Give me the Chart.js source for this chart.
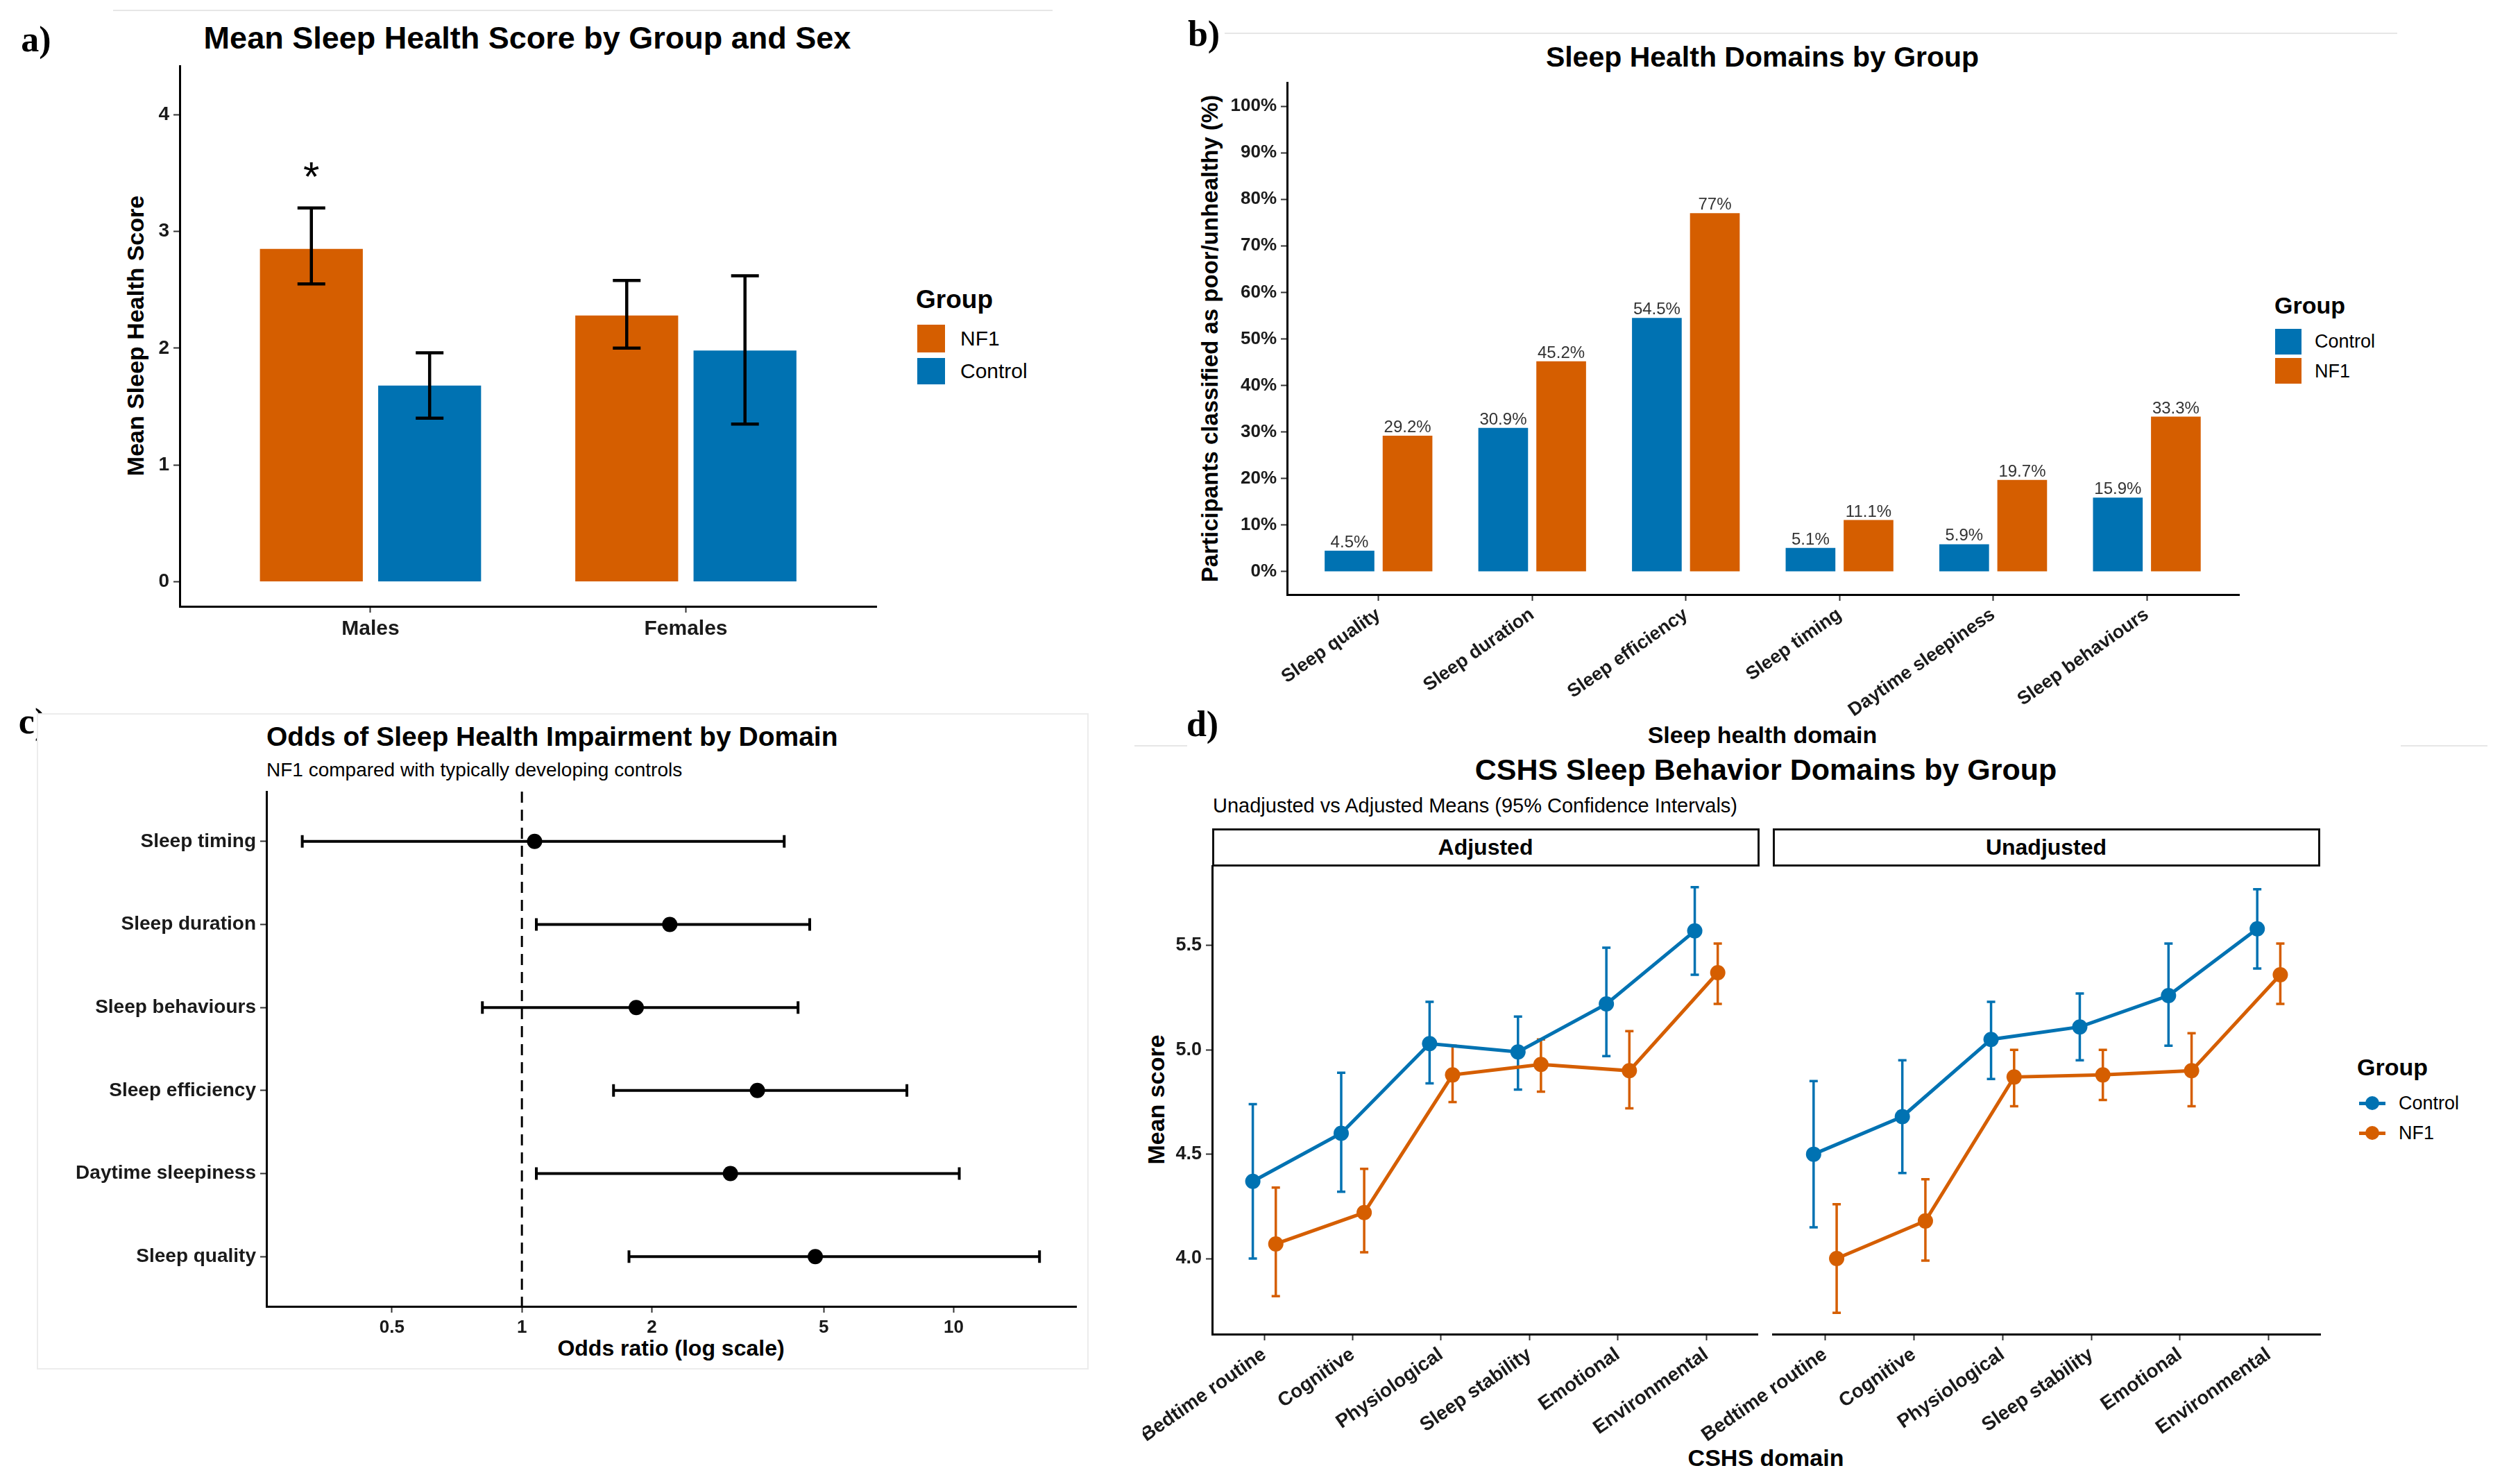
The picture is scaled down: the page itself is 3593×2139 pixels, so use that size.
<!DOCTYPE html>
<html>
<head>
<meta charset="utf-8">
<title>Sleep health figure</title>
<script src="https://cdn.jsdelivr.net/npm/chart.js@4.4.1/dist/chart.umd.min.js"></script>
<style>
  body { margin: 0; background: #fff; }
  #fig { position: relative; width: 3593px; height: 2139px; overflow: hidden; background: #fff;
         font-family: 'Liberation Sans', Arial, sans-serif; color: #000; }
  #fig canvas, #fig .t, #fig .box { position: absolute; }
  .t { white-space: nowrap; line-height: 1; }
</style>
</head>
<body>
<div id="fig"></div>
<script>
// a) mean sleep health score by sex
const sexes = ['Males', 'Females'];
const scoreNF1 = [2.85, 2.28];
const scoreNF1Lo = [2.55, 2.00];
const scoreNF1Hi = [3.20, 2.58];
const scoreCtrl = [1.68, 1.98];
const scoreCtrlLo = [1.40, 1.35];
const scoreCtrlHi = [1.96, 2.62];
const scoreSig = [3.55, null];
const scoreTicks = [0, 1, 2, 3, 4];

// b) % poor/unhealthy per domain
const domains = ['Sleep quality', 'Sleep duration', 'Sleep efficiency', 'Sleep timing', 'Daytime sleepiness', 'Sleep behaviours'];
const pctCtrl = [4.5, 30.9, 54.5, 5.1, 5.9, 15.9];
const pctNF1 = [29.2, 45.2, 77, 11.1, 19.7, 33.3];
const pctTicks = [0, 10, 20, 30, 40, 50, 60, 70, 80, 90, 100];

// c) odds ratios, top row first
const orDomains = ['Sleep timing', 'Sleep duration', 'Sleep behaviours', 'Sleep efficiency', 'Daytime sleepiness', 'Sleep quality'];
const orEst = [1.07, 2.20, 1.84, 3.51, 3.04, 4.78];
const orLo = [0.31, 1.08, 0.81, 1.63, 1.08, 1.77];
const orHi = [4.05, 4.64, 4.36, 7.79, 10.3, 15.8];
const orNull = 1;
const orTicks = [0.5, 1, 2, 5, 10];

// d) CSHS domain means
const cshsDomains = ['Bedtime routine', 'Cognitive', 'Physiological', 'Sleep stability', 'Emotional', 'Environmental'];
const adjCtrl = [4.37, 4.60, 5.03, 4.99, 5.22, 5.57];
const adjCtrlLo = [4.00, 4.32, 4.84, 4.81, 4.97, 5.36];
const adjCtrlHi = [4.74, 4.89, 5.23, 5.16, 5.49, 5.78];
const adjNF1 = [4.07, 4.22, 4.88, 4.93, 4.90, 5.37];
const adjNF1Lo = [3.82, 4.03, 4.75, 4.80, 4.72, 5.22];
const adjNF1Hi = [4.34, 4.43, 5.02, 5.05, 5.09, 5.51];
const unCtrl = [4.50, 4.68, 5.05, 5.11, 5.26, 5.58];
const unCtrlLo = [4.15, 4.41, 4.86, 4.95, 5.02, 5.39];
const unCtrlHi = [4.85, 4.95, 5.23, 5.27, 5.51, 5.77];
const unNF1 = [4.00, 4.18, 4.87, 4.88, 4.90, 5.36];
const unNF1Lo = [3.74, 3.99, 4.73, 4.76, 4.73, 5.22];
const unNF1Hi = [4.26, 4.38, 5.00, 5.00, 5.08, 5.51];
const cshsTicks = [4.0, 4.5, 5.0, 5.5];

const ORANGE = '#D55E00';
const BLUE = '#0072B2';
const FONT = "'Liberation Sans', Arial, sans-serif";
const DODGE = 0.13;

Chart.defaults.font.family = FONT;
Chart.defaults.color = '#1a1a1a';

const fig = document.getElementById('fig');

function txt(s, x, y, o = {}) {
  const d = document.createElement('div');
  d.className = 't';
  d.textContent = s;
  d.style.left = x + 'px';
  d.style.top = y + 'px';
  d.style.fontSize = (o.size || 30) + 'px';
  d.style.fontWeight = o.bold ? 'bold' : 'normal';
  if (o.serif) d.style.fontFamily = "'Liberation Serif', 'DejaVu Serif', serif";
  const ax = o.align === 'left' ? '0' : '-50%';
  d.style.transform = `translate(${ax}, -50%)` + (o.rot ? ` rotate(${o.rot}deg)` : '');
  fig.appendChild(d);
  return d;
}

function rect(x, y, w, h, css) {
  const d = document.createElement('div');
  d.className = 'box';
  Object.assign(d.style, {left: x + 'px', top: y + 'px', width: w + 'px', height: h + 'px'}, css);
  fig.appendChild(d);
  return d;
}

const indexTicks = arr => s => { s.ticks = arr.map((_, i) => ({value: i})); };
const valueTicks = arr => s => { s.ticks = arr.map(v => ({value: v})); };

function axis(o) {
  return Object.assign({
    offset: false,
    border: {display: true, color: '#000', width: 3},
    grid: {display: true, offset: false, drawOnChartArea: false, tickLength: 9, tickColor: '#333', tickWidth: 2}
  }, o);
}

// error bars from ds.lo / ds.hi
function drawErr(chart, o) {
  const ctx = chart.ctx, xs = chart.scales.x, ys = chart.scales.y;
  chart.data.datasets.forEach((ds, i) => {
    if (!ds.lo) return;
    ctx.save();
    ctx.strokeStyle = o.color || ds.borderColor;
    ctx.lineWidth = o.width;
    chart.getDatasetMeta(i).data.forEach((el, j) => {
      ctx.beginPath();
      if (o.horizontal) {
        const a = xs.getPixelForValue(ds.lo[j]), b = xs.getPixelForValue(ds.hi[j]);
        ctx.moveTo(a, el.y); ctx.lineTo(b, el.y);
        ctx.moveTo(a, el.y - o.cap); ctx.lineTo(a, el.y + o.cap);
        ctx.moveTo(b, el.y - o.cap); ctx.lineTo(b, el.y + o.cap);
      } else {
        const a = ys.getPixelForValue(ds.lo[j]), b = ys.getPixelForValue(ds.hi[j]);
        ctx.moveTo(el.x, a); ctx.lineTo(el.x, b);
        ctx.moveTo(el.x - o.cap, a); ctx.lineTo(el.x + o.cap, a);
        ctx.moveTo(el.x - o.cap, b); ctx.lineTo(el.x + o.cap, b);
      }
      ctx.stroke();
    });
    ctx.restore();
  });
}
const errorBars = {
  id: 'errbars',
  beforeDatasetsDraw(chart, args, o) { if (o.under) drawErr(chart, o); },
  afterDatasetsDraw(chart, args, o) { if (!o.under) drawErr(chart, o); }
};

const sigMarks = {
  id: 'sig',
  afterDatasetsDraw(chart) {
    const ctx = chart.ctx, ys = chart.scales.y, size = 60;
    chart.data.datasets.forEach((ds, i) => {
      if (!ds.sig) return;
      chart.getDatasetMeta(i).data.forEach((el, j) => {
        if (ds.sig[j] == null) return;
        ctx.save();
        ctx.font = `${size}px ${FONT}`;
        ctx.fillStyle = '#000';
        ctx.textAlign = 'center';
        ctx.textBaseline = 'alphabetic';
        ctx.fillText('*', el.x, ys.getPixelForValue(ds.sig[j]) + 0.57 * size);
        ctx.restore();
      });
    });
  }
};

const barLabels = {
  id: 'barlabels',
  afterDatasetsDraw(chart, args, o) {
    const ctx = chart.ctx;
    ctx.save();
    ctx.font = `${o.size}px ${FONT}`;
    ctx.fillStyle = '#333';
    ctx.textAlign = 'center';
    ctx.textBaseline = 'alphabetic';
    chart.data.datasets.forEach((ds, i) => {
      chart.getDatasetMeta(i).data.forEach((el, j) => {
        ctx.fillText(ds.data[j].y + '%', el.x, el.y - o.gap);
      });
    });
    ctx.restore();
  }
};

const refLine = {
  id: 'refline',
  beforeDatasetsDraw(chart, args, o) {
    const ctx = chart.ctx, a = chart.chartArea, x = chart.scales.x.getPixelForValue(o.value);
    ctx.save();
    ctx.strokeStyle = '#000';
    ctx.lineWidth = 3;
    ctx.setLineDash([16, 10]);
    ctx.beginPath();
    ctx.moveTo(x, a.top);
    ctx.lineTo(x, a.bottom);
    ctx.stroke();
    ctx.restore();
  }
};

// canvas placed so the chart area lands on plot {l,t,r,b}
function mk(plot, m, cfg) {
  const padLeft = m.padLeft || 0;
  const cv = document.createElement('canvas');
  const w = plot.r - plot.l + m.left + padLeft + m.right;
  const h = plot.b - plot.t + m.top + m.bottom;
  cv.width = w;
  cv.height = h;
  Object.assign(cv.style, {left: (plot.l - m.left - padLeft) + 'px', top: (plot.t - m.top) + 'px', width: w + 'px', height: h + 'px'});
  fig.appendChild(cv);
  const op = cfg.options;
  op.responsive = false;
  op.animation = false;
  op.devicePixelRatio = 1;
  op.events = [];
  op.layout = {padding: {top: m.top, right: m.right, left: padLeft, bottom: 0}};
  op.scales.x.afterFit = s => { s.height = m.bottom; s.paddingLeft = 0; s.paddingRight = 0; };
  op.scales.y.afterFit = s => { s.width = m.left; s.paddingTop = 0; s.paddingBottom = 0; };
  op.plugins = Object.assign({legend: {display: false}, tooltip: {enabled: false}}, op.plugins);
  return new Chart(cv, cfg);
}

// ---------- decorations / panel labels ----------
rect(163, 14, 1354, 2, {background: '#e6e6e6'});
rect(1765, 47, 1690, 2, {background: '#e6e6e6'});
rect(1635, 1074, 76, 2, {background: '#e6e6e6'});
rect(3460, 1074, 125, 2, {background: '#e6e6e6'});
txt('a)', 52, 57, {size: 52, bold: true, serif: true});
txt('b)', 1735, 49, {size: 52, bold: true, serif: true});
txt('c)', 47, 1040, {size: 52, bold: true, serif: true});
rect(53, 1028, 1516, 946, {background: '#fff', border: '2px solid #ececec', boxSizing: 'border-box'});
txt('d)', 1733, 1044, {size: 52, bold: true, serif: true});

// ---------- a) ----------
txt('Mean Sleep Health Score by Group and Sex', 760, 54, {size: 45, bold: true});
txt('Mean Sleep Health Score', 195, 484, {size: 34, bold: true, rot: -90});
txt('Group', 1320, 431, {size: 37, bold: true, align: 'left'});
rect(1322, 468, 40, 40, {background: ORANGE});
txt('NF1', 1384, 488, {size: 30, align: 'left'});
rect(1322, 516, 40, 38, {background: BLUE});
txt('Control', 1384, 535, {size: 30, align: 'left'});

mk({l: 259, t: 95, r: 1263, b: 874}, {left: 100, right: 20, top: 20, bottom: 80}, {
  type: 'bar',
  data: {datasets: [
    {label: 'NF1', data: sexes.map((_, i) => ({x: i, y: scoreNF1[i]})), lo: scoreNF1Lo, hi: scoreNF1Hi, sig: scoreSig, backgroundColor: ORANGE},
    {label: 'Control', data: sexes.map((_, i) => ({x: i, y: scoreCtrl[i]})), lo: scoreCtrlLo, hi: scoreCtrlHi, backgroundColor: BLUE}
  ]},
  options: {
    datasets: {bar: {categoryPercentage: 0.75, barPercentage: 0.87}},
    scales: {
      x: axis({type: 'linear', min: -0.605, max: 1.604, afterBuildTicks: indexTicks(sexes),
        ticks: {callback: v => sexes[v], autoSkip: false, maxRotation: 0, padding: 6, font: {size: 30, weight: 'bold'}}}),
      y: axis({type: 'linear', min: -0.2115, max: 4.417, afterBuildTicks: valueTicks(scoreTicks),
        ticks: {padding: 6, font: {size: 28, weight: 'bold'}}})
    },
    plugins: {errbars: {width: 4.5, cap: 20, color: '#000'}}
  },
  plugins: [errorBars, sigMarks]
});

// ---------- b) ----------
txt('Sleep Health Domains by Group', 2540, 82, {size: 41, bold: true});
txt('Participants classified as poor/unhealthy (%)', 1743, 488, {size: 33, bold: true, rot: -90});
txt('Sleep health domain', 2540, 1059, {size: 34, bold: true});
txt('Group', 3278, 440, {size: 34, bold: true, align: 'left'});
rect(3279, 474, 38, 37, {background: BLUE});
txt('Control', 3336, 492, {size: 27, align: 'left'});
rect(3279, 516, 38, 37, {background: ORANGE});
txt('NF1', 3336, 535, {size: 27, align: 'left'});

mk({l: 1855, t: 119, r: 3227, b: 857}, {left: 110, right: 20, top: 20, bottom: 210}, {
  type: 'bar',
  data: {datasets: [
    {label: 'Control', data: domains.map((_, i) => ({x: i, y: pctCtrl[i]})), backgroundColor: BLUE},
    {label: 'NF1', data: domains.map((_, i) => ({x: i, y: pctNF1[i]})), backgroundColor: ORANGE}
  ]},
  options: {
    datasets: {bar: {categoryPercentage: 0.755, barPercentage: 0.857}},
    scales: {
      x: axis({type: 'linear', min: -0.595, max: 5.6, afterBuildTicks: indexTicks(domains),
        ticks: {callback: v => domains[v], autoSkip: false, minRotation: 35, maxRotation: 35, padding: 4, font: {size: 27, weight: 'bold'}}}),
      y: axis({type: 'linear', min: -4.92, max: 105.07, afterBuildTicks: valueTicks(pctTicks),
        ticks: {callback: v => v + '%', padding: 6, font: {size: 26, weight: 'bold'}}})
    },
    plugins: {barlabels: {size: 24, gap: 5}}
  },
  plugins: [barLabels]
});

// ---------- c) ----------
txt('Odds of Sleep Health Impairment by Domain', 384, 1061, {size: 39, bold: true, align: 'left'});
txt('NF1 compared with typically developing controls', 384, 1110, {size: 28, align: 'left'});
txt('Odds ratio (log scale)', 967, 1943, {size: 32, bold: true});

mk({l: 384, t: 1140, r: 1551, b: 1883}, {left: 300, right: 16, top: 10, bottom: 60}, {
  type: 'scatter',
  data: {datasets: [
    {label: 'Odds ratio', data: orDomains.map((_, i) => ({x: orEst[i], y: i})), lo: orLo, hi: orHi,
     pointRadius: 11, backgroundColor: '#000', borderColor: '#000', borderWidth: 0}
  ]},
  options: {
    scales: {
      x: axis({type: 'logarithmic', min: 0.2561, max: 19.21, afterBuildTicks: valueTicks(orTicks),
        ticks: {callback: v => String(v), autoSkip: false, maxRotation: 0, padding: 6, font: {size: 26, weight: 'bold'}}}),
      y: axis({type: 'linear', reverse: true, min: -0.6, max: 5.6, afterBuildTicks: indexTicks(orDomains),
        ticks: {callback: v => orDomains[v], autoSkip: false, padding: 6, font: {size: 28, weight: 'bold'}}})
    },
    plugins: {errbars: {horizontal: true, width: 4, cap: 9, color: '#000', under: true}, refline: {value: orNull}}
  },
  plugins: [refLine, errorBars]
});

// ---------- d) ----------
txt('CSHS Sleep Behavior Domains by Group', 2545, 1109, {size: 43, bold: true});
txt('Unadjusted vs Adjusted Means (95% Confidence Intervals)', 1748, 1161, {size: 29, align: 'left'});
[['Adjusted', 1747], ['Unadjusted', 2555]].forEach(([s, x]) => {
  rect(x, 1194, 789, 55, {border: '3px solid #111', boxSizing: 'border-box', background: '#fff'});
  txt(s, x + 394, 1221, {size: 32, bold: true});
});
txt('Mean score', 1666, 1585, {size: 34, bold: true, rot: -90});
txt('CSHS domain', 2545, 2101, {size: 34, bold: true});
txt('Group', 3397, 1538, {size: 34, bold: true, align: 'left'});
[[BLUE, 1590, 'Control'], [ORANGE, 1633, 'NF1']].forEach(([c, y, s]) => {
  rect(3400, y - 2.5, 38, 5, {background: c});
  rect(3409, y - 10, 20, 20, {background: c, borderRadius: '50%'});
  txt(s, 3457, y, {size: 27, align: 'left'});
});

function series(label, vals, lo, hi, color, shift) {
  return {
    label, lo, hi,
    data: vals.map((v, i) => ({x: i + shift, y: v})),
    showLine: true, borderColor: color, backgroundColor: color, borderWidth: 5,
    pointRadius: 11, pointBorderWidth: 0
  };
}

function cshsPanel(plot, m, showY, ctrl, ctrlLo, ctrlHi, nf1, nf1Lo, nf1Hi) {
  mk(plot, m, {
    type: 'scatter',
    data: {datasets: [
      series('NF1', nf1, nf1Lo, nf1Hi, ORANGE, DODGE),
      series('Control', ctrl, ctrlLo, ctrlHi, BLUE, -DODGE)
    ]},
    options: {
      scales: {
        x: axis({type: 'linear', min: -0.59, max: 5.58, afterBuildTicks: indexTicks(cshsDomains),
          ticks: {callback: v => cshsDomains[v], autoSkip: false, minRotation: 35, maxRotation: 35, padding: 4, font: {size: 28, weight: 'bold'}}}),
        y: axis({type: 'linear', display: showY, min: 3.6376, max: 5.882, afterBuildTicks: valueTicks(cshsTicks),
          ticks: {callback: v => v.toFixed(1), padding: 6, font: {size: 27, weight: 'bold'}}})
      },
      plugins: {errbars: {width: 3.5, cap: 6, under: true}}
    },
    plugins: [errorBars]
  });
}

cshsPanel({l: 1747, t: 1248, r: 2536, b: 1923}, {left: 100, right: 8, top: 12, bottom: 170}, true,
  adjCtrl, adjCtrlLo, adjCtrlHi, adjNF1, adjNF1Lo, adjNF1Hi);
cshsPanel({l: 2555, t: 1248, r: 3344, b: 1923}, {left: 0, padLeft: 200, right: 20, top: 12, bottom: 170}, false,
  unCtrl, unCtrlLo, unCtrlHi, unNF1, unNF1Lo, unNF1Hi);
</script>
</body>
</html>
